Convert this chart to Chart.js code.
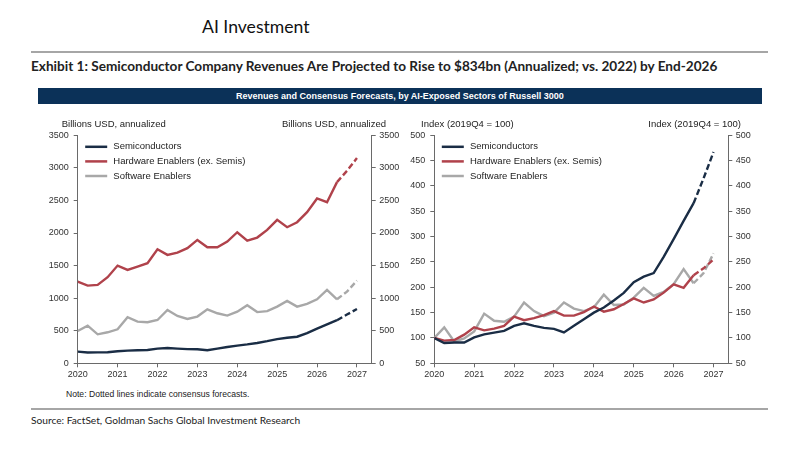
<!DOCTYPE html>
<html>
<head>
<meta charset="utf-8">
<script src="https://cdn.jsdelivr.net/npm/chart.js@4/dist/chart.umd.min.js"></script>
<style>
    body { margin: 0; width: 810px; height: 450px; background: #fff; position: relative; overflow: hidden; }
    .txt { position: absolute; white-space: nowrap; }
    .rule { position: absolute; left: 31px; width: 737px; height: 0; border-top: 2px solid #a6a6a6; }
    #page_title { left: 202px; top: 16px; line-height: 20px; font: 17.6px Lato, sans-serif; color: #111; }
    #exhibit { left: 31px; top: 58px; line-height: 17px; font: bold 13.6px Lato, sans-serif; color: #222; }
    #banner { position: absolute; left: 38px; top: 88px; width: 724px; height: 16px; background: #0b3158;
              color: #fff; font: bold 9px "Liberation Sans", Arial, sans-serif; line-height: 16px; text-align: center; }
    #note { left: 66px; top: 389px; line-height: 10px; font: 8.6px "Liberation Sans", Arial, sans-serif; color: #222; }
    #source { left: 31px; top: 414px; line-height: 13px; font: 10.2px Lato, sans-serif; color: #222; }
    canvas { position: absolute; }
</style>
</head>
<body>
<div class="txt" id="page_title">AI Investment</div>
<div class="rule" style="top:51px"></div>
<div class="txt" id="exhibit">Exhibit 1: Semiconductor Company Revenues Are Projected to Rise to $834bn (Annualized; vs. 2022) by End-2026</div>
<div id="banner">Revenues and Consensus Forecasts, by AI-Exposed Sectors of Russell 3000</div>
<canvas id="revenues" width="380" height="270" style="left:30px;top:115px;width:380px;height:270px"></canvas>
<canvas id="indexed" width="370" height="270" style="left:400px;top:115px;width:370px;height:270px"></canvas>
<div class="txt" id="note">Note: Dotted lines indicate consensus forecasts.</div>
<div class="rule" style="top:408px"></div>
<div class="txt" id="source">Source: FactSet, Goldman Sachs Global Investment Research</div>

<script>
// quarterly points, first one is 2019Q4 sitting on the 2020 tick
const quarters = [2020, 2020.25, 2020.5, 2020.75, 2021, 2021.25, 2021.5, 2021.75,
                  2022, 2022.25, 2022.5, 2022.75, 2023, 2023.25, 2023.5, 2023.75,
                  2024, 2024.25, 2024.5, 2024.75, 2025, 2025.25, 2025.5, 2025.75,
                  2026, 2026.25, 2026.5, 2026.75, 2027];
const forecastFrom = 2026.5;  // dashed after this

const seriesNames = ['Semiconductors', 'Hardware Enablers (ex. Semis)', 'Software Enablers'];
const seriesColors = ['#1a2d45', '#b0424b', '#a8a8a8'];

// Billions USD, annualized
const semisRevenue = [180, 165, 168, 170, 185, 195, 200, 205, 225, 235, 225, 218, 215, 200, 225, 250,
                      272, 290, 312, 340, 372, 392, 408, 462, 532, 596, 662, 748, 834];
const hardwareRevenue = [1254, 1193, 1203, 1321, 1500, 1434, 1485, 1536, 1751, 1664, 1700, 1767, 1894, 1782, 1782, 1869,
                         2012, 1884, 1930, 2048, 2202, 2089, 2166, 2320, 2530, 2473, 2781, 2954, 3150];
const softwareRevenue = [496, 578, 445, 476, 522, 707, 640, 631, 665, 819, 727, 681, 717, 829, 768, 732,
                         793, 891, 786, 801, 870, 957, 870, 911, 983, 1126, 983, 1100, 1269];

// Index (2019Q4 = 100)
const semisIndex = [100, 90, 91, 91, 101, 107, 110.5, 114, 124, 129, 124, 120, 118, 111, 124, 137,
                    150, 160, 174, 189, 210, 221, 228, 260, 295, 331, 366, 415, 467];
const hardwareIndex = [100, 94.7, 96, 106.6, 121, 115, 118.4, 123.7, 142, 135, 139, 145, 153, 144, 144, 151,
                       162, 152, 156.6, 167, 178, 170, 176, 189.5, 206, 199, 224, 237.5, 255];
const softwareIndex = [100, 121, 93, 99, 113, 148, 134, 132, 142, 170, 153, 143, 150, 170, 158, 153,
                       160.5, 185.5, 165, 166, 179.6, 199, 183, 191, 206, 236, 208, 228, 267];

const yearTicks = [2020, 2021, 2022, 2023, 2024, 2025, 2026, 2027];
const revenueTicks = [0, 500, 1000, 1500, 2000, 2500, 3000, 3500];
const indexTicks = [50, 100, 150, 200, 250, 300, 350, 400, 450, 500];

const xAxisEnd = 2027.37;  // axis runs a bit past the last year
const tickFont = {family: 'Liberation Sans', size: 9};
const axisColor = '#6a6a6a';


/**
 * Axis titles over both y axes and the legend in the top left corner of the plot
 */
const overlayPlugin = {
    id: 'overlay',
    afterDraw: function (chart, args, opts) {
        let ctx = chart.ctx;
        let area = chart.chartArea;

        ctx.save();
        ctx.font = '9.5px "Liberation Sans"';
        ctx.fillStyle = '#222';
        ctx.textBaseline = 'middle';

        ctx.textAlign = 'left';
        ctx.fillText(opts.title, area.left - opts.titleLeft, area.top - 11);
        ctx.textAlign = 'right';
        ctx.fillText(opts.title, area.right + opts.titleRight, area.top - 11);

        ctx.textAlign = 'left';
        chart.data.datasets.forEach(function (ds, i) {
            let y = area.top + 11.5 + i * 14.6;
            ctx.strokeStyle = ds.borderColor;
            ctx.lineWidth = 2.5;
            ctx.beginPath();
            ctx.moveTo(area.left + 7.5, y);
            ctx.lineTo(area.left + 29.5, y);
            ctx.stroke();
            ctx.fillText(ds.label, area.left + 35.6, y);
        });
        ctx.restore();
    }
};


function makeDatasets(values) {
    return values.map(function (series, i) {
        return {
            label: seriesNames[i],
            data: series.map(function (v, j) { return {x: quarters[j], y: v}; }),
            borderColor: seriesColors[i],
            borderWidth: 2.4,
            pointRadius: 0,
            tension: 0,
            yAxisID: 'y',
            segment: {
                borderDash: function (c) { return c.p0.parsed.x >= forecastFrom ? [6, 3] : undefined; }
            }
        };
    });
}


function valueAxis(ticksList, side, width, pad) {
    return {
        position: side,
        min: ticksList[0],
        max: ticksList[ticksList.length - 1],
        afterBuildTicks: function (s) { s.ticks = ticksList.map(function (v) { return {value: v}; }); },
        afterFit: function (s) { s.width = width; },
        ticks: {font: tickFont, color: '#333', padding: pad, callback: function (v) { return String(v); }},
        grid: {drawOnChartArea: false, drawTicks: true, tickLength: 4, color: axisColor},
        border: {display: true, color: axisColor}
    };
}


function buildChart(canvasId, values, ticksList, title, sizes) {
    let ctx = document.getElementById(canvasId).getContext('2d');
    return new Chart(ctx, {
        type: 'line',
        data: {datasets: makeDatasets(values)},
        plugins: [overlayPlugin],
        options: {
            responsive: false,
            animation: false,
            layout: {padding: {top: 20.3, left: 0, right: 0, bottom: 0}},
            plugins: {
                legend: {display: false},
                tooltip: {enabled: false},
                overlay: {title: title, titleLeft: sizes.titleLeft, titleRight: sizes.titleRight}
            },
            scales: {
                x: {
                    type: 'linear',
                    min: yearTicks[0],
                    max: xAxisEnd,
                    afterBuildTicks: function (s) { s.ticks = yearTicks.map(function (v) { return {value: v}; }); },
                    afterFit: function (s) { s.height = 21.7; },
                    ticks: {font: tickFont, color: '#333', padding: 2, maxRotation: 0, autoSkip: false,
                            callback: function (v) { return String(v); }},
                    grid: {drawOnChartArea: false, drawTicks: true, tickLength: 4, color: axisColor},
                    border: {display: true, color: axisColor}
                },
                y: valueAxis(ticksList, 'left', sizes.left, 5),
                y2: valueAxis(ticksList, 'right', sizes.right, 3.5)
            }
        }
    });
}


window.addEventListener('load', function () {
    buildChart('revenues', [semisRevenue, hardwareRevenue, softwareRevenue], revenueTicks,
               'Billions USD, annualized', {left: 47.7, right: 38.3, titleLeft: 16, titleRight: 14.3});
    buildChart('indexed', [semisIndex, hardwareIndex, softwareIndex], indexTicks,
               'Index (2019Q4 = 100)', {left: 34.3, right: 41.7, titleLeft: 13.3, titleRight: 12.7});
});
</script>
</body>
</html>
